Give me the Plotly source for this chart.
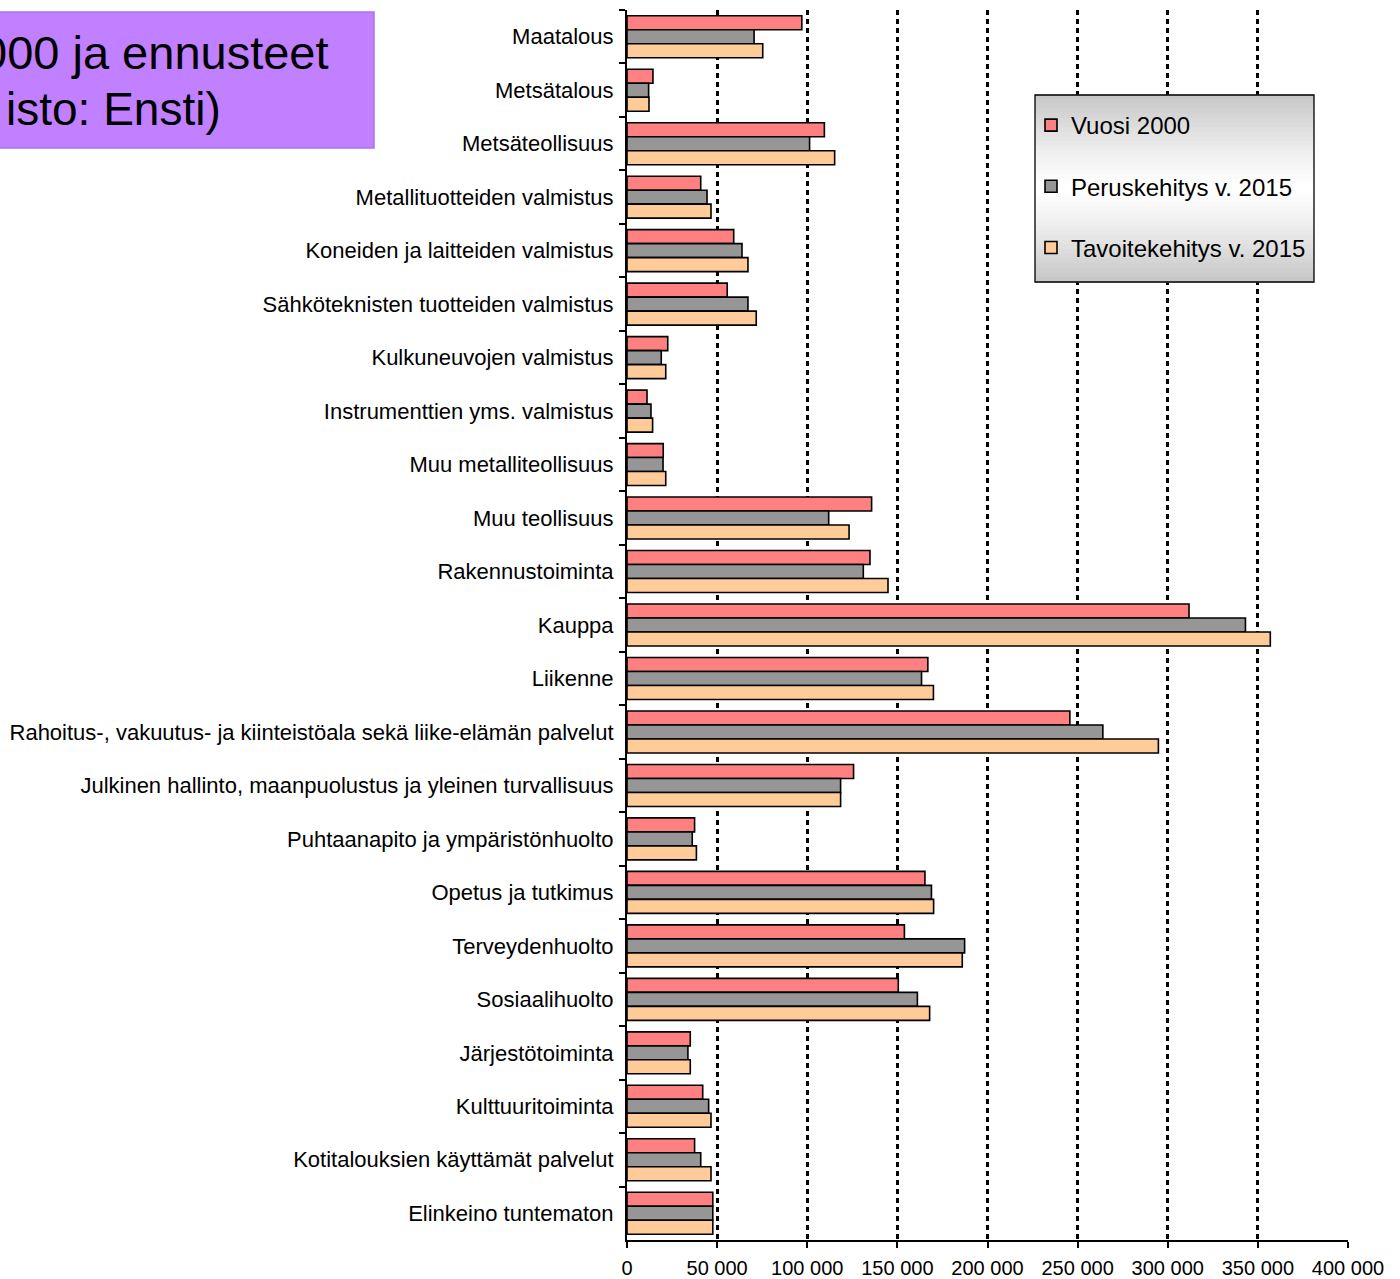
import plotly.graph_objects as go

categories = [
    "Maatalous", "Metsätalous", "Metsäteollisuus", "Metallituotteiden valmistus",
    "Koneiden ja laitteiden valmistus", "Sähköteknisten tuotteiden valmistus",
    "Kulkuneuvojen valmistus", "Instrumenttien yms. valmistus", "Muu metalliteollisuus",
    "Muu teollisuus", "Rakennustoiminta", "Kauppa", "Liikenne",
    "Rahoitus-, vakuutus- ja kiinteistöala sekä liike-elämän palvelut",
    "Julkinen hallinto, maanpuolustus ja yleinen turvallisuus",
    "Puhtaanapito ja ympäristönhuolto", "Opetus ja tutkimus", "Terveydenhuolto",
    "Sosiaalihuolto", "Järjestötoiminta", "Kulttuuritoiminta",
    "Kotitalouksien käyttämät palvelut", "Elinkeino tuntematon",
]

vuosi_2000 = [97000, 14400, 109500, 40900, 59200, 55600, 22600, 11100, 20100, 135700,
              134800, 311800, 166900, 245700, 125700, 37500, 165300, 153900, 150500,
              35100, 42000, 37500, 47600]
peruskehitys_2015 = [70500, 12000, 101300, 44400, 63800, 67100, 19000, 13300, 20000,
                     111900, 131100, 343100, 163400, 264000, 118500, 36200, 168900,
                     187300, 161100, 33800, 45300, 40900, 47600]
tavoitekehitys_2015 = [75300, 12200, 115200, 46600, 67100, 71700, 21500, 14200, 21500,
                       123200, 144800, 356900, 170000, 294800, 118500, 38500, 170100,
                       186000, 167900, 35100, 46600, 46600, 47600]

series_names = ["Vuosi 2000", "Peruskehitys v. 2015", "Tavoitekehitys v. 2015"]
series_colors = ["#FF8080", "#969696", "#FFCC99"]
x_ticks = [0, 50000, 100000, 150000, 200000, 250000, 300000, 350000, 400000]

title_lines = ["000 ja ennusteet", "isto: Ensti)"]

W, H = 1400, 1279
L, R, T, B = 627, 1348, 10, 1240
FONT = "Liberation Sans, Arial, sans-serif"


def px(xp):
    return (xp - L) / (R - L)


def py(yp):
    return (B - yp) / (B - T)


fig = go.Figure()
for i, (name, vals, col) in enumerate(zip(series_names,
                                          [vuosi_2000, peruskehitys_2015, tavoitekehitys_2015],
                                          series_colors)):
    fig.add_trace(go.Bar(
        y=categories, x=vals, name=name, orientation="h",
        marker=dict(color=col, line=dict(color="black", width=1.6)),
        legendgroup=f"g{i}",
    ))

shapes = []
# Title box
shapes.append(dict(type="rect", xref="paper", yref="paper",
                   x0=px(-10), x1=px(374), y0=py(148), y1=py(12),
                   fillcolor="#C080FF", line=dict(color="#B070EE", width=1.5),
                   layer="above"))
# Legend gradient box
lx0, lx1, ly0, ly1 = 1035, 1314, 95, 282
N = 40
for k in range(N):
    t = (k + 0.5) / N
    d = abs(t - 0.5) * 2  # 0 at middle, 1 at edges
    v = int(round(255 - 58 * d ** 1.3))
    ya = ly0 + (ly1 - ly0) * k / N
    yb = ly0 + (ly1 - ly0) * (k + 1) / N
    shapes.append(dict(type="rect", xref="paper", yref="paper",
                       x0=px(lx0), x1=px(lx1), y0=py(yb + 0.5), y1=py(ya - 0.5),
                       fillcolor=f"rgb({v},{v},{v})", line=dict(width=0), layer="above"))
shapes.append(dict(type="rect", xref="paper", yref="paper",
                   x0=px(lx0), x1=px(lx1), y0=py(ly1), y1=py(ly0),
                   fillcolor="rgba(0,0,0,0)", line=dict(color="black", width=1.3),
                   layer="above"))

annotations = [
    dict(xref="paper", yref="paper", x=px(331), y=py(52), text=title_lines[0],
         xanchor="right", yanchor="middle", showarrow=False,
         font=dict(family=FONT, size=47, color="black")),
    dict(xref="paper", yref="paper", x=px(223), y=py(109), text=title_lines[1],
         xanchor="right", yanchor="middle", showarrow=False,
         font=dict(family=FONT, size=46, color="black")),
]

fig.update_layout(
    width=W, height=H,
    margin=dict(l=L, r=W - R, t=T, b=H - B, autoexpand=False),
    paper_bgcolor="white", plot_bgcolor="white",
    barmode="group", bargap=0.215, bargroupgap=0,
    separators=", ",
    font=dict(family=FONT, color="black"),
    shapes=shapes, annotations=annotations,
    showlegend=True,
    legend=dict(x=px(1031), y=py(103), xanchor="left", yanchor="top",
                bgcolor="rgba(0,0,0,0)", borderwidth=0,
                font=dict(family=FONT, size=24, color="black"),
                traceorder="grouped", tracegroupgap=27, itemwidth=30),
)

fig.update_xaxes(
    range=[0, 400000], tickvals=x_ticks, tickformat=",d",
    showgrid=True, gridcolor="black", gridwidth=3, griddash="5px,4px",
    zeroline=False, showline=True, linecolor="black", linewidth=2,
    ticks="outside", ticklen=6, tickwidth=2, tickcolor="black",
    tickfont=dict(family=FONT, size=20, color="black"), ticklabelstandoff=3,
    fixedrange=True,
)
fig.update_yaxes(
    categoryorder="array", categoryarray=categories, autorange="reversed",
    showgrid=False, zeroline=False, showline=True, linecolor="black", linewidth=2,
    ticks="outside", ticklen=6, tickwidth=2, tickcolor="black", tickson="boundaries",
    tickfont=dict(family=FONT, size=22, color="black"), ticklabelstandoff=7,
    fixedrange=True,
)

fig.write_html(
    "out.html",
    config={"displayModeBar": False},
    post_script="document.body.style.margin='0px';document.body.style.padding='0px';"
                "document.body.style.overflow='hidden';",
)
